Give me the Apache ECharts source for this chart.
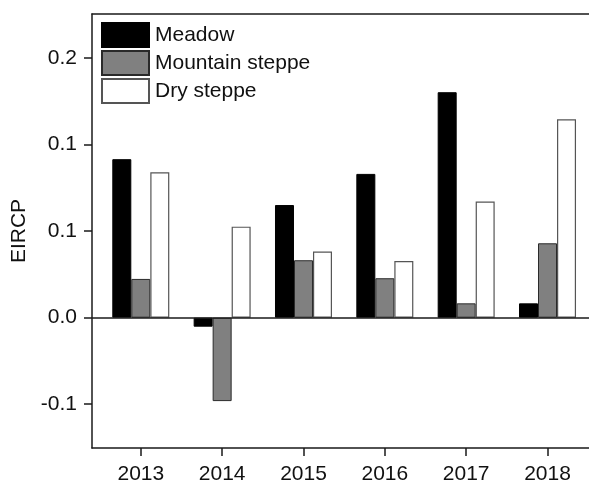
<!DOCTYPE html>
<html><head><meta charset="utf-8">
<script src="https://cdn.jsdelivr.net/npm/echarts@6/dist/echarts.min.js"></script>
<style>html,body{margin:0;padding:0;background:#fff}#c{width:589px;height:484px}</style>
</head><body><div id="c"></div>
<script>
var years = [2013, 2014, 2015, 2016, 2017, 2018];
var meadow = [0.0916, -0.0052, 0.0651, 0.0831, 0.1303, 0.0083];
var mountainSteppe = [0.0224, -0.0482, 0.0332, 0.0228, 0.0083, 0.0430];
var drySteppe = [0.0840, 0.0526, 0.0382, 0.0328, 0.0671, 0.1147];
var yTickValues = [-0.05, 0, 0.05, 0.1, 0.15];
var yTickLabels = ["-0.1", "0.0", "0.1", "0.1", "0.2"];

function pairs(arr) { return years.map(function (y, i) { return [y, arr[i]]; }); }
var font = 'Liberation Sans, Arial, sans-serif';
var axisCol = '#1a1a1a';

var chart = echarts.init(document.getElementById('c'), null, {renderer: 'canvas'});
chart.setOption({
  animation: false,
  backgroundColor: '#fff',
  grid: {left: 92, right: 0, top: 14, bottom: 36, containLabel: false, outerBoundsMode: 'none'},
  legend: {
    orient: 'vertical', left: 101, top: 22, padding: 0, itemWidth: 47, itemHeight: 24, itemGap: 2,
    icon: 'rect',
    textStyle: {fontFamily: font, fontSize: 21, color: '#111', padding: [0, 0, 0, 1]},
    data: ['Meadow', 'Mountain steppe', 'Dry steppe']
  },
  xAxis: [{
    type: 'value', min: 2012.4, max: 2018.51, position: 'bottom',
    axisLine: {show: true, onZero: false, lineStyle: {color: axisCol, width: 1.5}},
    axisTick: {show: true, inside: false, length: 8, customValues: years, lineStyle: {color: axisCol, width: 1.5}},
    axisLabel: {customValues: years, margin: 16, fontFamily: font, fontSize: 21, color: '#111', formatter: function (v) { return String(Math.round(v)); }},
    splitLine: {show: false}
  }, {
    type: 'value', min: 2012.4, max: 2018.51, position: 'top',
    axisLine: {show: true, onZero: false, lineStyle: {color: axisCol, width: 1.5}},
    axisTick: {show: false}, axisLabel: {show: false}, splitLine: {show: false}
  }],
  yAxis: {
    type: 'value', min: -0.0753, max: 0.1755,
    name: 'EIRCP', nameLocation: 'middle', nameGap: 61, nameRotate: 90,
    nameTextStyle: {fontFamily: font, fontSize: 21, color: '#111'},
    axisLine: {show: true, onZero: false, lineStyle: {color: axisCol, width: 1.5}},
    axisTick: {show: true, inside: false, length: 8, customValues: yTickValues, lineStyle: {color: axisCol, width: 1.5}},
    axisLabel: {customValues: yTickValues, margin: 15, fontFamily: font, fontSize: 21, color: '#111',
      formatter: function (v) {
        var best = 0;
        for (var i = 1; i < yTickValues.length; i++) if (Math.abs(yTickValues[i] - v) < Math.abs(yTickValues[best] - v)) best = i;
        return yTickLabels[best];
      }},
    splitLine: {show: false}
  },
  series: [{
    name: 'Meadow', type: 'bar', data: pairs(meadow), barWidth: 19, barGap: '0%',
    itemStyle: {color: '#000', borderColor: '#000', borderWidth: 1},
    markLine: {silent: true, symbol: 'none', label: {show: false},
      lineStyle: {color: axisCol, width: 1.5, type: 'solid'}, data: [{yAxis: 0}]}
  }, {
    name: 'Mountain steppe', type: 'bar', data: pairs(mountainSteppe), barWidth: 19, barGap: '0%',
    itemStyle: {color: '#808080', borderColor: '#2a2a2a', borderWidth: 1}
  }, {
    name: 'Dry steppe', type: 'bar', data: pairs(drySteppe), barWidth: 19, barGap: '0%',
    itemStyle: {color: '#fff', borderColor: '#555', borderWidth: 1.2}
  }]
});
</script></body></html>
